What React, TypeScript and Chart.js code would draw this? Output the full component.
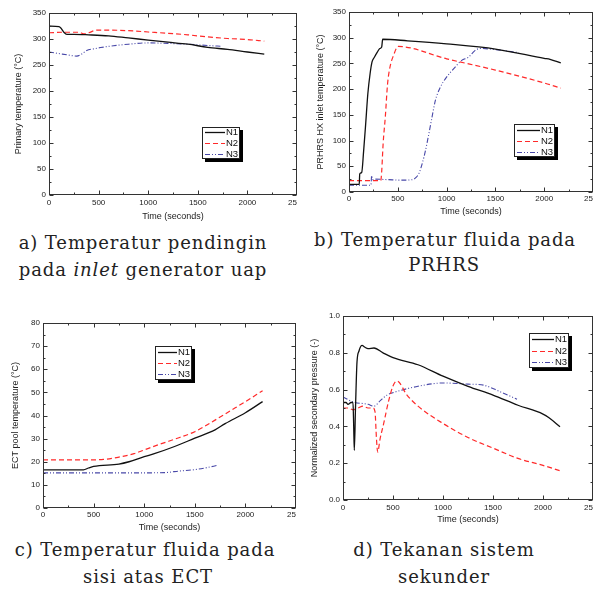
import React, { useEffect, useRef } from 'react';
import { Chart, registerables } from 'chart.js';
Chart.register(...registerables);

// ---------- Data ----------
const seriesNames = ['N1', 'N2', 'N3'];

// a) Primary temperature
const aTimeN1 = [0, 100, 120, 150, 180, 250, 400, 600, 800, 1000, 1200, 1400, 1600, 1800, 2000, 2170];
const aN1 = [325, 324, 321, 313, 309, 309, 308, 306, 302, 298, 294, 290, 284, 280, 275, 271];
const aTimeN2 = [0, 150, 300, 350, 400, 480, 600, 800, 1000, 1200, 1400, 1600, 1800, 2000, 2170];
const aN2 = [312, 313, 313, 310, 312, 317, 317, 316, 313.5, 311, 308, 304, 301, 299, 296];
const aTimeN3 = [0, 100, 200, 280, 330, 380, 450, 520, 650, 800, 1000, 1200, 1400, 1600, 1740];
const aN3 = [275, 272, 269, 267, 271, 278, 281, 283.5, 287, 290, 292.5, 291.5, 290, 287.5, 286];

// b) PRHRS HX inlet temperature
const bTimeN1 = [0, 105, 110, 130, 150, 170, 193, 216, 236, 260, 290, 315, 335, 345, 600, 1000, 1500, 2000, 2060, 2170];
const bN1 = [15, 15, 35, 38, 80, 130, 191, 230, 253, 262, 272, 279, 282, 297, 294, 288, 278, 260, 258, 251];
const bTimeN2 = [0, 325, 335, 350, 372, 395, 420, 463, 487, 503, 1000, 1500, 2000, 2170];
const bN2 = [22, 22, 40, 95, 146, 210, 243, 269, 280, 283, 259, 237, 212, 202];
const bTimeN3 = [0, 225, 232, 240, 260, 400, 550, 650, 690, 716, 750, 784, 820, 851, 885, 936, 987, 1088, 1155, 1223, 1290, 1340, 1500, 1740];
const bN3 = [13, 13, 32, 24, 25, 24, 23, 24, 29, 36, 55, 81, 115, 146, 178, 204, 220, 243, 256, 262, 275, 279, 277, 271];

// c) ECT pool temperature
const cTimeN1 = [0, 400, 450, 500, 750, 850, 1000, 1100, 1300, 1500, 1700, 1800, 2000, 2170];
const cN1 = [16.5, 16.5, 17.3, 18, 19, 20, 22.2, 23.5, 26.6, 30.2, 33.8, 36.5, 41.2, 46];
const cTimeN2 = [0, 400, 600, 750, 900, 1000, 1150, 1350, 1500, 1700, 1850, 2000, 2170];
const cN2 = [20.8, 20.8, 21, 22, 23.5, 25.1, 27.5, 30.5, 33, 38, 42, 46, 50.7];
const cTimeN3 = [0, 500, 1000, 1200, 1350, 1500, 1600, 1730];
const cN3 = [15.2, 15.2, 15.2, 15.3, 16, 16.6, 17.3, 18.5];

// d) Normalized secondary pressure
const dTimeN1 = [0, 30, 50, 80, 100, 107, 113, 125, 140, 160, 173, 190, 220, 250, 310, 400, 500, 750, 1000, 1250, 1500, 1750, 2000, 2060, 2170];
const dN1 = [0.53, 0.53, 0.52, 0.53, 0.53, 0.4, 0.27, 0.5, 0.75, 0.81, 0.83, 0.84, 0.83, 0.823, 0.826, 0.8, 0.774, 0.735, 0.673, 0.618, 0.57, 0.515, 0.467, 0.447, 0.398];
const dTimeN2 = [0, 50, 100, 150, 200, 250, 300, 320, 335, 347, 370, 407, 457, 500, 540, 640, 750, 1000, 1250, 1500, 1750, 2000, 2170];
const dN2 = [0.5, 0.5, 0.49, 0.5, 0.51, 0.5, 0.5, 0.48, 0.33, 0.26, 0.33, 0.416, 0.54, 0.62, 0.647, 0.57, 0.51, 0.416, 0.34, 0.282, 0.226, 0.188, 0.159];
const dTimeN3 = [0, 100, 250, 310, 373, 440, 540, 750, 1000, 1250, 1407, 1573, 1740];
const dN3 = [0.56, 0.533, 0.52, 0.51, 0.54, 0.57, 0.59, 0.618, 0.636, 0.63, 0.624, 0.588, 0.548];

const xTickValues = [0, 500, 1000, 1500, 2000, 2500];

// ---------- Plugins ----------
const frameTicks = {
  id: 'frameTicks',
  afterDatasetsDraw(chart: any, _a: any, o: any) {
    const { ctx, chartArea: ca, scales } = chart;
    const xs = scales.x, ys = scales.y;
    ctx.save();
    ctx.strokeStyle = o.color;
    ctx.lineWidth = 1;
    const L = Math.round(ca.left) + 0.5, R = Math.round(ca.right) - 0.5;
    const T = Math.round(ca.top) + 0.5, B = Math.round(ca.bottom) - 0.5;
    ctx.strokeRect(L, T, R - L, B - T);
    ctx.beginPath();
    const isMaj = (v: number, m: number) => Math.abs(v / m - Math.round(v / m)) < 1e-6;
    for (let i = 0; xs.min + i * o.xMinor <= xs.max + 1e-9; i++) {
      const v = xs.min + i * o.xMinor;
      const px = Math.round(xs.getPixelForValue(v)) + 0.5;
      const len = isMaj(v, o.xMajor) ? 4 : 2;
      ctx.moveTo(px, B); ctx.lineTo(px, B - len);
      ctx.moveTo(px, T); ctx.lineTo(px, T + len);
    }
    for (let i = 0; ys.min + i * o.yMinor <= ys.max + 1e-9; i++) {
      const v = ys.min + i * o.yMinor;
      const py = Math.round(ys.getPixelForValue(v)) + 0.5;
      const len = isMaj(v, o.yMajor) ? 4 : 2;
      ctx.moveTo(L, py); ctx.lineTo(L + len, py);
      ctx.moveTo(R, py); ctx.lineTo(R - len, py);
    }
    ctx.stroke();
    ctx.restore();
  },
};

const boxLegend = {
  id: 'boxLegend',
  afterDraw(chart: any, _a: any, o: any) {
    const { ctx } = chart;
    const { x, y, w, h } = o;
    ctx.save();
    ctx.fillStyle = '#000';
    ctx.fillRect(x + 3, y + 3, w, h);
    ctx.fillStyle = '#fff';
    ctx.fillRect(x, y, w, h);
    ctx.strokeStyle = '#222';
    ctx.lineWidth = 1;
    ctx.strokeRect(x + 0.5, y + 0.5, w - 1, h - 1);
    const n = chart.data.datasets.length;
    ctx.font = '9.5px "Liberation Sans", Arial, sans-serif';
    ctx.textBaseline = 'middle';
    chart.data.datasets.forEach((ds: any, i: number) => {
      const ly = Math.round(y + (h * (i + 0.5)) / n) + 0.5;
      ctx.setLineDash(ds.borderDash || []);
      ctx.strokeStyle = ds.borderColor;
      ctx.lineWidth = ds.borderWidth;
      ctx.beginPath();
      ctx.moveTo(x + 3, ly);
      ctx.lineTo(x + w - 15, ly);
      ctx.stroke();
      ctx.setLineDash([]);
      ctx.fillStyle = '#111';
      ctx.fillText(ds.label, x + w - 14, ly);
    });
    ctx.restore();
  },
};

// ---------- Styles ----------
const lineColors = ['#111111', '#ff2a2a', '#4848a8'];
const lineDashes: number[][] = [[], [5, 3], [5, 2, 1, 2, 1, 2]];
const lineWidths = [1.3, 1.2, 1.1];
const FONT = '"Liberation Sans", Arial, sans-serif';

type PanelCfg = {
  left: number; top: number; w: number; h: number;
  area: { l: number; t: number; r: number; b: number };
  series: { xs: number[]; ys: number[] }[];
  yMin: number; yMax: number; yStep: number; yMinor: number; yDec: number;
  yTitle: string; yTitlePad: number; xTitlePad: number; xTickPad: number;
  legend: { x: number; y: number; w: number; h: number };
};

function Panel({ cfg }: { cfg: PanelCfg }) {
  const ref = useRef<HTMLCanvasElement>(null);
  useEffect(() => {
    const { area, w, h } = cfg;
    const chart = new Chart(ref.current as HTMLCanvasElement, {
      type: 'line',
      data: {
        datasets: cfg.series.map((s, i) => ({
          label: seriesNames[i],
          data: s.xs.map((x, j) => ({ x, y: s.ys[j] })),
          borderColor: lineColors[i],
          borderDash: lineDashes[i],
          borderWidth: lineWidths[i],
          pointRadius: 0,
          fill: false,
          cubicInterpolationMode: 'monotone' as const,
        })),
      },
      plugins: [frameTicks, boxLegend],
      options: {
        responsive: false,
        animation: false,
        events: [],
        layout: { padding: { top: area.t, right: w - area.r, left: 0, bottom: 0 } },
        plugins: {
          legend: { display: false },
          tooltip: { enabled: false },
          frameTicks: { color: '#333', xMinor: 250, xMajor: 500, yMinor: cfg.yMinor, yMajor: cfg.yStep },
          boxLegend: cfg.legend,
        } as any,
        scales: {
          x: {
            type: 'linear',
            min: 0, max: 2500,
            afterBuildTicks: (s: any) => { s.ticks = xTickValues.map((v) => ({ value: v })); },
            afterFit: (s: any) => { s.height = h - area.b; s.paddingLeft = 0; s.paddingRight = 0; },
            grid: { display: false, drawTicks: false },
            border: { display: false },
            ticks: {
              font: { family: FONT, size: 8 }, color: '#222', padding: cfg.xTickPad, maxRotation: 0, autoSkip: false,
              callback: (v: any) => String(v),
            },
            title: { display: true, text: 'Time (seconds)', font: { family: FONT, size: 9 }, color: '#222', padding: { top: 0, bottom: cfg.xTitlePad } },
          },
          y: {
            type: 'linear',
            min: cfg.yMin, max: cfg.yMax,
            afterFit: (s: any) => { s.width = area.l; s.paddingTop = 0; s.paddingBottom = 0; },
            grid: { display: false, drawTicks: false },
            border: { display: false },
            ticks: {
              stepSize: cfg.yStep,
              font: { family: FONT, size: 8 }, color: '#222', padding: 3,
              callback: (v: any) => Number(v).toFixed(cfg.yDec),
            },
            title: { display: true, text: cfg.yTitle, font: { family: FONT, size: 9 }, color: '#222', padding: { top: cfg.yTitlePad, bottom: 0 } },
          },
        },
      } as any,
    });
    return () => chart.destroy();
  }, [cfg]);
  return (
    <canvas
      ref={ref}
      width={cfg.w}
      height={cfg.h}
      style={{ position: 'absolute', left: cfg.left, top: cfg.top, width: cfg.w, height: cfg.h }}
    />
  );
}

const panels: PanelCfg[] = [
  {
    left: 0, top: 0, w: 297, h: 228,
    area: { l: 49, t: 13, r: 297, b: 195 },
    series: [{ xs: aTimeN1, ys: aN1 }, { xs: aTimeN2, ys: aN2 }, { xs: aTimeN3, ys: aN3 }],
    yMin: 0, yMax: 350, yStep: 50, yMinor: 25, yDec: 0,
    yTitle: 'Primary temperature (°C)', yTitlePad: 13, xTitlePad: 5.6, xTickPad: 3,
    legend: { x: 202, y: 127, w: 38, h: 32 },
  },
  {
    left: 300, top: 0, w: 293, h: 228,
    area: { l: 49, t: 12, r: 293, b: 192 },
    series: [{ xs: bTimeN1, ys: bN1 }, { xs: bTimeN2, ys: bN2 }, { xs: bTimeN3, ys: bN3 }],
    yMin: 0, yMax: 350, yStep: 50, yMinor: 25, yDec: 0,
    yTitle: 'PRHRS HX inlet temperature (°C)', yTitlePad: 15.6, xTitlePad: 10.6, xTickPad: 1.5,
    legend: { x: 214, y: 124, w: 41, h: 33 },
  },
  {
    left: 0, top: 300, w: 296, h: 236,
    area: { l: 43, t: 23, r: 296, b: 208 },
    series: [{ xs: cTimeN1, ys: cN1 }, { xs: cTimeN2, ys: cN2 }, { xs: cTimeN3, ys: cN3 }],
    yMin: 0, yMax: 80, yStep: 10, yMinor: 5, yDec: 0,
    yTitle: 'ECT pool temperature (°C)', yTitlePad: 10.6, xTitlePad: 2.6, xTickPad: 2.2,
    legend: { x: 155, y: 46, w: 37, h: 34 },
  },
  {
    left: 300, top: 300, w: 293, h: 236,
    area: { l: 43, t: 16, r: 293, b: 200 },
    series: [{ xs: dTimeN1, ys: dN1 }, { xs: dTimeN2, ys: dN2 }, { xs: dTimeN3, ys: dN3 }],
    yMin: 0, yMax: 1, yStep: 0.2, yMinor: 0.1, yDec: 1,
    yTitle: 'Normalized secondary pressure (-)', yTitlePad: 9.6, xTitlePad: 10.6, xTickPad: 3,
    legend: { x: 229, y: 33, w: 40, h: 35 },
  },
];

const captionFont: React.CSSProperties = {
  position: 'absolute',
  width: 300,
  textAlign: 'center',
  fontFamily: '"DejaVu Serif", serif',
  fontSize: 18,
  letterSpacing: '0.9px',
  lineHeight: '20px',
  color: '#222',
  whiteSpace: 'nowrap',
};

function Caption({ cx, cy, children }: { cx: number; cy: number; children: React.ReactNode }) {
  return <div style={{ ...captionFont, left: cx - 150, top: cy - 10 }}>{children}</div>;
}

export default function App() {
  return (
    <div style={{ position: 'absolute', left: 0, top: 0, width: 604, height: 594, background: '#fff', overflow: 'hidden' }}>
      {panels.map((p, i) => <Panel key={i} cfg={p} />)}
      <Caption cx={143} cy={243}>a) Temperatur pendingin</Caption>
      <Caption cx={143} cy={270}>pada <i>inlet</i> generator uap</Caption>
      <Caption cx={445} cy={240}>b) Temperatur fluida pada</Caption>
      <Caption cx={444} cy={265}>PRHRS</Caption>
      <Caption cx={145} cy={550}>c) Temperatur fluida pada</Caption>
      <Caption cx={148} cy={577}>sisi atas ECT</Caption>
      <Caption cx={444} cy={550}>d) Tekanan sistem</Caption>
      <Caption cx={444} cy={577}>sekunder</Caption>
    </div>
  );
}
